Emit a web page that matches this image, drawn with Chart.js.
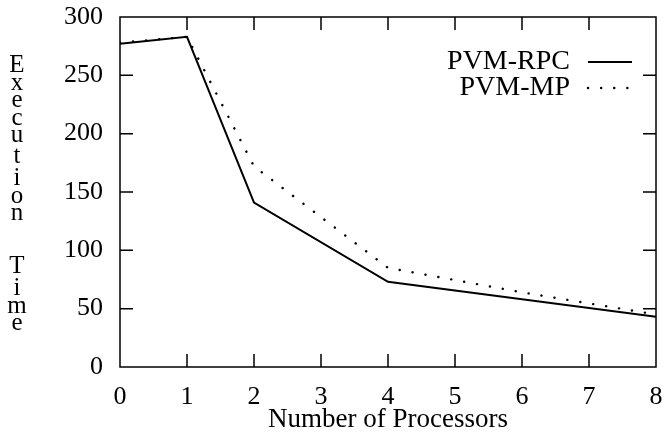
<!DOCTYPE html>
<html>
<head>
<meta charset="utf-8">
<script src="https://cdn.jsdelivr.net/npm/chart.js@4/dist/chart.umd.min.js"></script>
<style>
  html, body { margin: 0; padding: 0; background: #fff; }
  #wrap { width: 664px; height: 437px; }
</style>
</head>
<body>
<div id="wrap"><canvas id="c" width="664" height="437"></canvas></div>
<script>
// data
const processors = [0, 1, 2, 4, 6, 8];
const rpcTimes = [277, 283, 141, 73, 58, 43];
const mpTimes = [278, 283, 172, 85, 64, 45];
const seriesNames = ['PVM-RPC', 'PVM-MP'];
const xTitle = 'Number of Processors';
const yTitle = 'Execution Time';

const SERIF = '"Liberation Serif", "DejaVu Serif", serif';

// frame + inward tick marks, like the gnuplot original
const framePlugin = {
  id: 'frame',
  afterDraw(chart) {
    const { ctx, chartArea: a, scales } = chart;
    const len = 13;
    ctx.save();
    ctx.strokeStyle = '#000';
    ctx.lineWidth = 1.5;
    ctx.strokeRect(a.left, a.top, a.right - a.left, a.bottom - a.top);
    ctx.beginPath();
    scales.x.ticks.forEach((t) => {
      const px = scales.x.getPixelForValue(t.value);
      if (px <= a.left + 1 || px >= a.right - 1) return;
      ctx.moveTo(px, a.bottom); ctx.lineTo(px, a.bottom - len);
      ctx.moveTo(px, a.top); ctx.lineTo(px, a.top + len);
    });
    scales.y.ticks.forEach((t) => {
      const py = scales.y.getPixelForValue(t.value);
      if (py <= a.top + 1 || py >= a.bottom - 1) return;
      ctx.moveTo(a.left, py); ctx.lineTo(a.left + len, py);
      ctx.moveTo(a.right, py); ctx.lineTo(a.right - len, py);
    });
    ctx.stroke();
    ctx.restore();
  },
};

// stacked (unrotated) y-axis title
const yTitlePlugin = {
  id: 'yStack',
  afterDraw(chart) {
    const { ctx } = chart;
    ctx.save();
    ctx.font = '25px ' + SERIF;
    ctx.fillStyle = '#000';
    ctx.textAlign = 'center';
    ctx.textBaseline = 'alphabetic';
    let y = 55;
    const gap = 5.5;
    for (const ch of yTitle) {
      if (ch === ' ') { y += 30; continue; }
      const m = ctx.measureText(ch);
      y += m.actualBoundingBoxAscent;
      ctx.fillText(ch, 17, y);
      y += m.actualBoundingBoxDescent + gap;
    }
    ctx.restore();
  },
};

// legend: right-aligned label with line sample on its right
const legendPlugin = {
  id: 'keyBox',
  afterDraw(chart) {
    const { ctx } = chart;
    ctx.save();
    ctx.font = '28px ' + SERIF;
    ctx.fillStyle = '#000';
    ctx.textAlign = 'right';
    ctx.textBaseline = 'middle';
    chart.data.datasets.forEach((ds, i) => {
      const y = 62 + i * 26;
      ctx.fillText(ds.label, 570, y);
      ctx.strokeStyle = ds.borderColor;
      ctx.lineWidth = ds.borderWidth;
      ctx.lineCap = ds.borderCapStyle || 'butt';
      ctx.setLineDash(ds.borderDash || []);
      ctx.beginPath();
      ctx.moveTo(588, y);
      ctx.lineTo(632, y);
      ctx.stroke();
    });
    ctx.restore();
  },
};

const toPoints = (ys) => processors.map((x, i) => ({ x, y: ys[i] }));

new Chart(document.getElementById('c'), {
  type: 'line',
  data: {
    datasets: [
      {
        label: seriesNames[0],
        data: toPoints(rpcTimes),
        borderColor: '#000',
        borderWidth: 2,
        pointRadius: 0,
        tension: 0,
      },
      {
        label: seriesNames[1],
        data: toPoints(mpTimes),
        borderColor: '#000',
        borderWidth: 2.4,
        borderDash: [0.1, 13],
        borderCapStyle: 'round',
        pointRadius: 0,
        tension: 0,
      },
    ],
  },
  options: {
    responsive: false,
    animation: false,
    layout: { autoPadding: false, padding: { top: 17, right: 8, left: 0, bottom: 0 } },
    plugins: { legend: { display: false }, tooltip: { enabled: false } },
    scales: {
      x: {
        type: 'linear',
        min: 0,
        max: 8,
        grid: { display: false, drawTicks: false },
        border: { display: false },
        ticks: { stepSize: 1, color: '#000', padding: 15, font: { family: SERIF, size: 26 } },
        title: { display: true, text: xTitle, color: '#000', padding: { top: 0, bottom: 1 }, font: { family: SERIF, size: 27 } },
        afterFit: (s) => { s.height = 70; s.paddingLeft = 0; s.paddingRight = 0; },
      },
      y: {
        min: 0,
        max: 300,
        grid: { display: false, drawTicks: false },
        border: { display: false },
        ticks: { stepSize: 50, color: '#000', padding: 17, font: { family: SERIF, size: 26 } },
        afterFit: (s) => { s.width = 120; s.paddingTop = 0; s.paddingBottom = 0; },
      },
    },
  },
  plugins: [framePlugin, yTitlePlugin, legendPlugin],
});
</script>
</body>
</html>
